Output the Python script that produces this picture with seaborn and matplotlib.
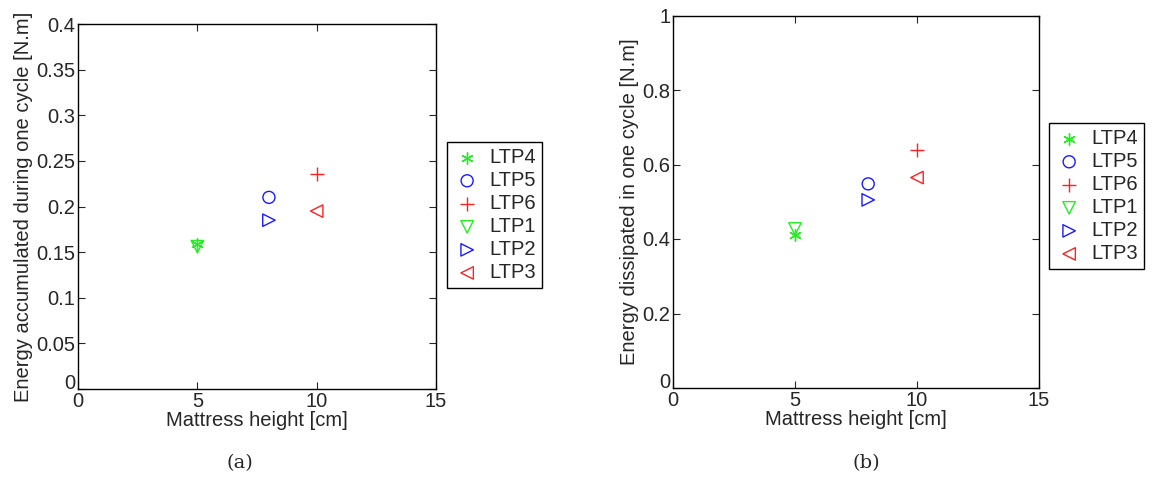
import matplotlib
matplotlib.use("Agg")
import matplotlib.pyplot as plt
import pandas as pd
import seaborn as sns

series = ["LTP4", "LTP5", "LTP6", "LTP1", "LTP2", "LTP3"]
height_cm = [5, 8, 10, 5, 8, 10]
energy_accumulated = [0.159, 0.210, 0.236, 0.156, 0.185, 0.195]
energy_dissipated = [0.411, 0.548, 0.640, 0.427, 0.505, 0.565]

GREEN, BLUE, RED = "#22ee22", "#1a1aff", "#ff2020"
colors = dict(zip(series, [GREEN, BLUE, RED, GREEN, BLUE, RED]))
markers = dict(zip(series, [(6, 2, 0), "o", "+", "v", ">", "<"]))
line_art = {"LTP4", "LTP6"}
sizes = dict(zip(series, [70, 75, 90, 80, 80, 80]))

df = pd.DataFrame(
    {"series": series, "height": height_cm,
     "accumulated": energy_accumulated, "dissipated": energy_dissipated}
)

sns.set_style("ticks")
plt.rcParams["font.family"] = ["Liberation Sans", "DejaVu Sans"]

fig = plt.figure(figsize=(11.56, 4.79), dpi=100)
ax1 = fig.add_axes([78 / 1156, 1 - 389 / 479, (436 - 78) / 1156, (389 - 24) / 479])
ax2 = fig.add_axes([673 / 1156, 1 - 388 / 479, (1039 - 673) / 1156, (388 - 15.5) / 479])


def draw(ax, col, ylim, yticks, ylabel, legend_anchor):
    for s in series:
        sub = df[df["series"] == s]
        if s in line_art:
            kw = dict(color=colors[s])
        else:
            kw = dict(facecolors="none", edgecolor=colors[s])
        sns.scatterplot(
            data=sub, x="height", y=col, marker=markers[s], s=sizes[s],
            linewidth=1.0, label=s, ax=ax, **kw,
        )
    ax.set_xlim(0, 15)
    ax.set_ylim(*ylim)
    ax.set_xticks([0, 5, 10, 15])
    ax.set_yticks(yticks)
    ax.set_yticklabels([f"{t:g}" for t in yticks])
    ax.get_yticklabels()[0].set_va("baseline")
    ax.set_xlabel("Mattress height [cm]", fontsize=14.5, labelpad=0)
    ax.set_ylabel(ylabel, fontsize=14.5, labelpad=2)
    ax.tick_params(direction="in", top=True, right=True, labelsize=14.5,
                   length=5, width=0.8, pad=2)
    for sp in ax.spines.values():
        sp.set_visible(True)
        sp.set_linewidth(1.0)
        sp.set_color("black")
    leg = ax.legend(loc="upper left", bbox_to_anchor=legend_anchor,
                    bbox_transform=fig.transFigure, fontsize=14.5,
                    frameon=True, fancybox=False, framealpha=1,
                    edgecolor="black", borderpad=0.3, labelspacing=0.2,
                    handletextpad=0.4, handlelength=1.4, borderaxespad=0)
    leg.get_frame().set_linewidth(1.0)


draw(ax1, "accumulated", (0, 0.4),
     [0, 0.05, 0.1, 0.15, 0.2, 0.25, 0.3, 0.35, 0.4],
     "Energy accumulated during one cycle [N.m]", (447 / 1156, 1 - 142 / 479))
draw(ax2, "dissipated", (0, 1), [0, 0.2, 0.4, 0.6, 0.8, 1],
     "Energy dissipated in one cycle [N.m]", (1049 / 1156, 1 - 123 / 479))

fig.text(240 / 1156, 1 - 463 / 479, "(a)", ha="center", va="center",
         fontsize=14, family=["DejaVu Serif"])
fig.text(866 / 1156, 1 - 463 / 479, "(b)", ha="center", va="center",
         fontsize=14, family=["DejaVu Serif"])

fig.savefig("out.png", dpi=100)
